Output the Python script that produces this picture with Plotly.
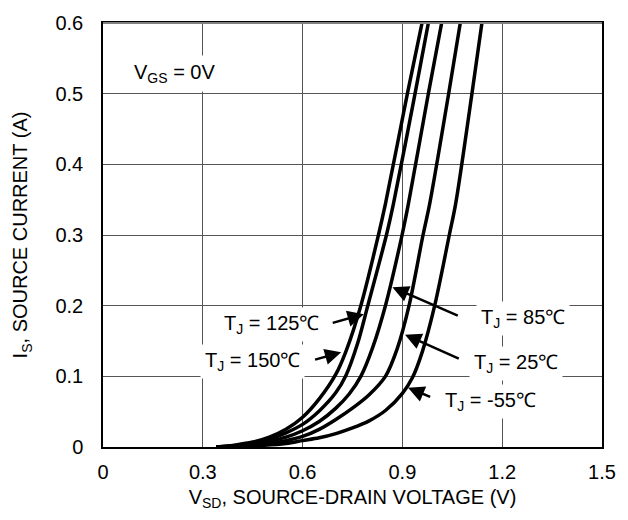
import plotly.graph_objects as go

# ---- data (V_SD in volts, I_S in amps) ----
v_150 = [0.34, 0.40, 0.45, 0.50, 0.55, 0.60, 0.65, 0.70, 0.73, 0.775, 0.828, 0.849, 0.915, 0.959]
i_150 = [0.0, 0.003, 0.007, 0.014, 0.025, 0.042, 0.068, 0.103, 0.135, 0.200, 0.300, 0.344, 0.500, 0.600]

v_125 = [0.34, 0.40, 0.45, 0.50, 0.55, 0.60, 0.65, 0.70, 0.731, 0.765, 0.796, 0.852, 0.873, 0.938, 0.978]
i_125 = [0.0, 0.002, 0.005, 0.011, 0.020, 0.032, 0.051, 0.077, 0.102, 0.146, 0.200, 0.300, 0.344, 0.500, 0.600]

v_85 = [0.34, 0.40, 0.45, 0.50, 0.55, 0.60, 0.65, 0.70, 0.74, 0.775, 0.81, 0.849, 0.899, 0.918, 0.978, 1.018]
i_85 = [0.0, 0.0015, 0.004, 0.008, 0.014, 0.023, 0.036, 0.055, 0.075, 0.100, 0.140, 0.200, 0.300, 0.344, 0.500, 0.600]

v_25 = [0.34, 0.40, 0.45, 0.50, 0.55, 0.60, 0.65, 0.70, 0.75, 0.80, 0.849, 0.885, 0.92, 0.962, 0.982, 1.039, 1.074]
i_25 = [0.0, 0.001, 0.0025, 0.005, 0.009, 0.015, 0.025, 0.039, 0.055, 0.074, 0.100, 0.140, 0.200, 0.300, 0.344, 0.500, 0.600]

v_m55 = [0.34, 0.45, 0.55, 0.60, 0.65, 0.70, 0.75, 0.80, 0.85, 0.90, 0.93, 0.96, 0.997, 1.041, 1.060, 1.109, 1.139]
i_m55 = [0.0, 0.0015, 0.005, 0.009, 0.013, 0.019, 0.027, 0.037, 0.052, 0.076, 0.098, 0.135, 0.200, 0.300, 0.344, 0.500, 0.600]

x_ticks = [0, 0.3, 0.6, 0.9, 1.2, 1.5]
x_tick_labels = ["0", "0.3", "0.6", "0.9", "1.2", "1.5"]
y_ticks = [0, 0.1, 0.2, 0.3, 0.4, 0.5, 0.6]
y_tick_labels = ["0", "0.1", "0.2", "0.3", "0.4", "0.5", "0.6"]

# labels: text, text anchor (x, y, xanchor), arrow tail (x, y), arrow tip (x, y)
labels = [
    ("T<sub>J</sub> = 125℃", 0.663, 0.173, "right", 0.686, 0.175, 0.784, 0.188),
    ("T<sub>J</sub> = 150℃", 0.607, 0.121, "right", 0.633, 0.123, 0.716, 0.134),
    ("T<sub>J</sub> = 85℃", 1.121, 0.182, "left", 1.071, 0.185, 0.870, 0.226),
    ("T<sub>J</sub> = 25℃", 1.101, 0.118, "left", 1.074, 0.124, 0.908, 0.159),
    ("T<sub>J</sub> = -55℃", 1.012, 0.065, "left", 0.988, 0.070, 0.917, 0.084),
]

FONT = "Liberation Sans, Arial, sans-serif"

fig = go.Figure()
for vx, iy in [(v_150, i_150), (v_125, i_125), (v_85, i_85), (v_25, i_25), (v_m55, i_m55)]:
    fig.add_trace(go.Scatter(x=vx, y=iy, mode="lines",
                             line=dict(color="black", width=3.5, shape="spline", smoothing=0.9),
                             showlegend=False, hoverinfo="skip"))

annotations = []
for text, tx, ty, anc, ax, ay, hx, hy in labels:
    annotations.append(dict(x=tx, y=ty, xref="x", yref="y", text=text, showarrow=False,
                            xanchor=anc, yanchor="middle", bgcolor="white", borderpad=4,
                            font=dict(family=FONT, size=20, color="black")))
    annotations.append(dict(x=hx, y=hy, xref="x", yref="y", ax=ax, ay=ay, axref="x", ayref="y",
                            text="", showarrow=True, arrowhead=2, arrowsize=1.3, arrowwidth=2.5,
                            arrowcolor="black"))
annotations.append(dict(x=0.074, y=0.528, xref="x", yref="y", text="V<sub>GS</sub> = 0V",
                        showarrow=False, xanchor="left", yanchor="middle", bgcolor="white",
                        borderpad=5, font=dict(family=FONT, size=20, color="black")))

fig.update_layout(
    width=628, height=520,
    margin=dict(l=103, r=18, t=16, b=73),
    paper_bgcolor="white", plot_bgcolor="white",
    font=dict(family=FONT, size=20, color="black"),
    annotations=annotations,
    shapes=[dict(type="line", xref="paper", yref="paper", x0=0, x1=1, y0=1, y1=1,
                 line=dict(color="#808080", width=2), layer="above")],
    xaxis=dict(range=[0, 1.5], tickvals=x_ticks, ticktext=x_tick_labels,
               showgrid=True, gridcolor="#555", gridwidth=1.3, zeroline=False,
               showline=True, linecolor="black", linewidth=1.5, mirror=True,
               ticks="", ticklen=0, tickfont=dict(size=20), ticklabelstandoff=6,
               title=dict(text="V<sub>SD</sub>, SOURCE-DRAIN VOLTAGE (V)", standoff=8,
                          font=dict(size=20))),
    yaxis=dict(range=[0, 0.6], tickvals=y_ticks, ticktext=y_tick_labels,
               showgrid=True, gridcolor="#555", gridwidth=1.3, zeroline=False,
               showline=True, linecolor="black", linewidth=1.5, mirror=True,
               ticks="", ticklen=0, tickfont=dict(size=20), ticklabelstandoff=14,
               title=dict(text="I<sub>S</sub>, SOURCE CURRENT (A)", standoff=22,
                          font=dict(size=20))),
)

fig.write_html("out.html")
